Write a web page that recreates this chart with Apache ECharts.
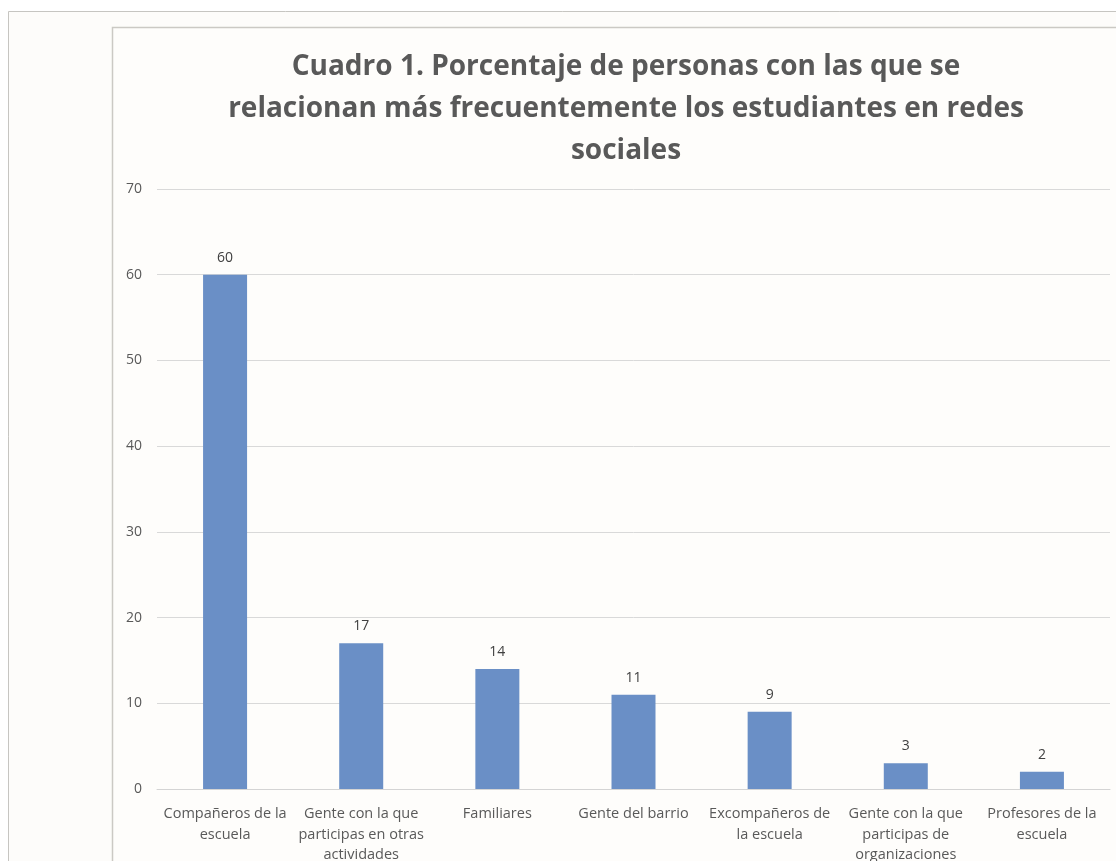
<!DOCTYPE html>
<html>
<head>
<meta charset="utf-8">
<script src="https://cdn.jsdelivr.net/npm/echarts@6/dist/echarts.min.js"></script>
<style>
  html, body { margin: 0; padding: 0; background: #ffffff; }
  #chart { width: 1116px; height: 861px; }
</style>
</head>
<body>
<div id="chart"></div>
<script>
// Chart title (three lines)
const titleText = 'Cuadro 1. Porcentaje de personas con las que se\nrelacionan más frecuentemente los estudiantes en redes\nsociales';

// Categories (tick labels, with manual line breaks)
const categories = [
  'Compañeros de la\nescuela',
  'Gente con la que\nparticipas en otras\nactividades',
  'Familiares',
  'Gente del barrio',
  'Excompañeros de\nla escuela',
  'Gente con la que\nparticipas de\norganizaciones',
  'Profesores de la\nescuela'
];

// Percentage of students per category
const percentages = [60, 17, 14, 11, 9, 3, 2];

// Value axis range
const yMin = 0;
const yMax = 70;
const yStep = 10;

const textGray = '#595959';
const fontFamily = '"Open Sans", "Noto Sans", sans-serif';

const chart = echarts.init(document.getElementById('chart'), null, { renderer: 'canvas' });

chart.setOption({
  backgroundColor: '#ffffff',
  animation: false,
  graphic: [
    // outer page frame
    {
      type: 'rect', z: -10, silent: true,
      shape: { x: 8.5, y: 11.5, width: 1200, height: 1000 },
      style: { fill: '#fdfcfa', stroke: '#c6c5c1', lineWidth: 1 }
    },
    // chart area frame
    {
      type: 'rect', z: -9, silent: true,
      shape: { x: 112.5, y: 27.5, width: 1100, height: 1000 },
      style: { fill: '#fefdfb', stroke: '#cbc9c4', lineWidth: 1.5 }
    }
  ],
  title: {
    text: titleText,
    left: 621,
    top: 41,
    textAlign: 'center',
    textStyle: {
      fontFamily: fontFamily,
      fontWeight: 'bold',
      fontSize: 28,
      lineHeight: 42,
      color: textGray
    }
  },
  grid: {
    left: 157,
    right: 6,
    top: 189,
    bottom: 72,
    containLabel: false,
    outerBoundsMode: 'none'
  },
  xAxis: {
    type: 'category',
    data: categories,
    axisLine: { show: true, lineStyle: { color: '#d4d4d4', width: 1 } },
    axisTick: { show: false },
    axisLabel: {
      interval: 0,
      margin: 15,
      fontFamily: fontFamily,
      fontSize: 14.5,
      lineHeight: 20.5,
      color: textGray,
      align: 'center'
    }
  },
  yAxis: {
    type: 'value',
    min: yMin,
    max: yMax,
    interval: yStep,
    axisLine: { show: false },
    axisTick: { show: false },
    splitLine: { lineStyle: { color: '#d9d9d9', width: 1 } },
    axisLabel: {
      margin: 15,
      fontFamily: fontFamily,
      fontSize: 14,
      color: textGray
    }
  },
  series: [{
    type: 'bar',
    data: percentages,
    barWidth: 44,
    itemStyle: { color: '#6a8fc6' },
    label: {
      show: true,
      position: 'top',
      distance: 10,
      fontFamily: fontFamily,
      fontSize: 14,
      color: '#404040'
    }
  }]
});
</script>
</body>
</html>
